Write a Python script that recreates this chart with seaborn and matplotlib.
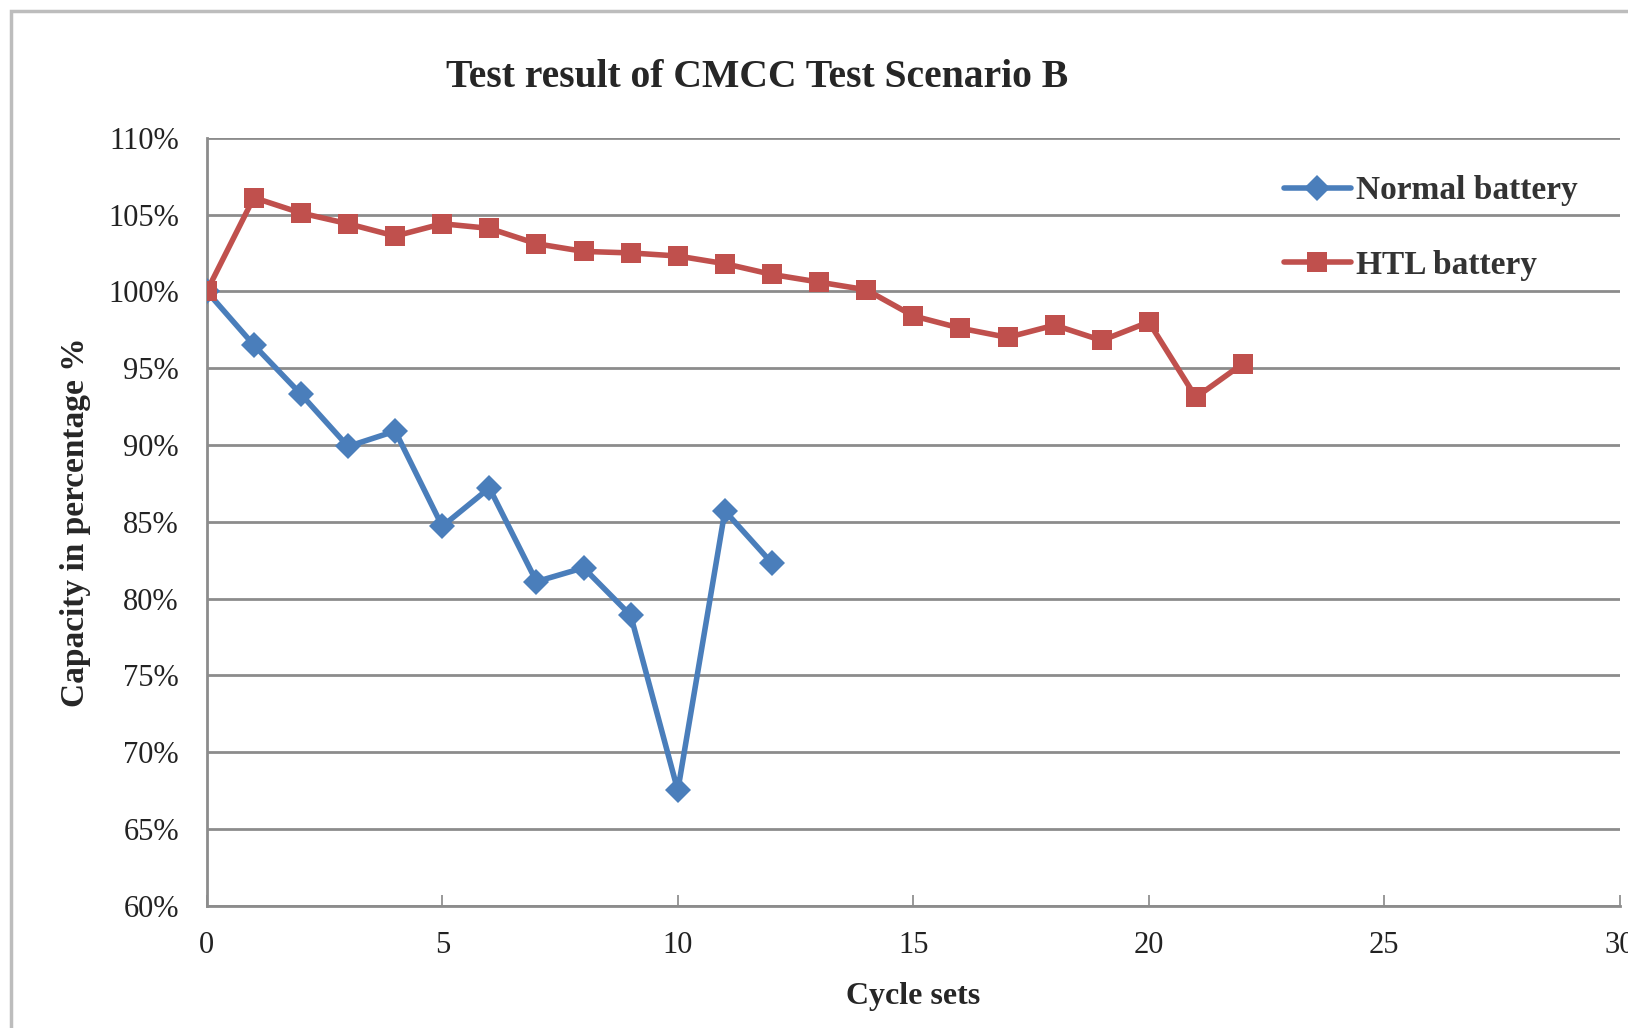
import pandas as pd
import seaborn as sns
import matplotlib.pyplot as plt
from matplotlib.patches import Rectangle
from matplotlib.ticker import PercentFormatter

# capacity readings (% of initial) per cycle set
normal_cycles = list(range(0, 13))
normal_capacity = [100, 96.5, 93.3, 89.9, 90.9, 84.7, 87.2, 81.1, 82.0, 78.9, 67.5, 85.7, 82.3]

htl_cycles = list(range(0, 23))
htl_capacity = [100, 106.1, 105.1, 104.4, 103.6, 104.4, 104.1, 103.1, 102.6, 102.5, 102.3,
                101.8, 101.1, 100.6, 100.1, 98.4, 97.6, 97.0, 97.8, 96.8, 98.0, 93.1, 95.3]

series_names = ["Normal battery", "HTL battery"]
x_ticks = [0, 5, 10, 15, 20, 25, 30]
y_ticks = [60, 65, 70, 75, 80, 85, 90, 95, 100, 105, 110]

df = pd.concat([
    pd.DataFrame({"cycle": normal_cycles, "capacity": normal_capacity, "series": series_names[0]}),
    pd.DataFrame({"cycle": htl_cycles, "capacity": htl_capacity, "series": series_names[1]}),
])

sns.set_theme(style="white")
plt.rcParams["font.family"] = ["Liberation Serif", "DejaVu Serif"]

fig = plt.figure(figsize=(16.28, 10.28), dpi=100)
ax = fig.add_axes([0.127, 0.119, 0.868, 0.747])

sns.lineplot(data=df, x="cycle", y="capacity", hue="series", style="series",
             palette={"Normal battery": "#4a7ebb", "HTL battery": "#c0504d"},
             markers={"Normal battery": "D", "HTL battery": "s"}, dashes=False,
             linewidth=4, markersize=13, markeredgewidth=0, ax=ax, zorder=3)
# squares a bit bigger than the diamonds
for ln in ax.lines:
    if ln.get_marker() == "s":
        ln.set_markersize(15)

ax.set_xlim(0, 30)
ax.set_ylim(60, 110)
ax.set_xticks(x_ticks)
ax.set_yticks(y_ticks)
ax.yaxis.set_major_formatter(PercentFormatter(decimals=0))
ax.tick_params(axis="both", labelsize=22, colors="#222222")
ax.tick_params(axis="y", pad=14)
ax.tick_params(axis="x", direction="in", length=8, width=1.2, color="#888888",
               bottom=True, pad=18)
ax.grid(axis="y", color="#8c8c8c", linewidth=2)
for s in ["top", "right"]:
    ax.spines[s].set_visible(False)
for s in ["left", "bottom"]:
    ax.spines[s].set_color("#8c8c8c")
    ax.spines[s].set_linewidth(2)

ax.set_xlabel("Cycle sets", fontsize=23, fontweight="bold", labelpad=16)
ax.set_ylabel("Capacity in percentage %", fontsize=24, fontweight="bold", labelpad=12)

fig.text(0.465, 0.925, "Test result of CMCC Test Scenario B", fontsize=28.5,
         fontweight="bold", ha="center", va="center")

leg = ax.legend(loc="upper left", bbox_to_anchor=(0.741, 0.99), frameon=False,
                prop={"weight": "bold", "size": 24},
                handlelength=2.0, handletextpad=0.15, labelspacing=1.3)
for t in leg.get_texts():
    t.set_color("#333333")

# grey frame of the screenshot
fig.patches.append(Rectangle((0.007, -0.1), 1.2, 1.089, transform=fig.transFigure,
                             fill=False, edgecolor="#bdbdbd", linewidth=2.5))

fig.savefig("out.png", dpi=100)
